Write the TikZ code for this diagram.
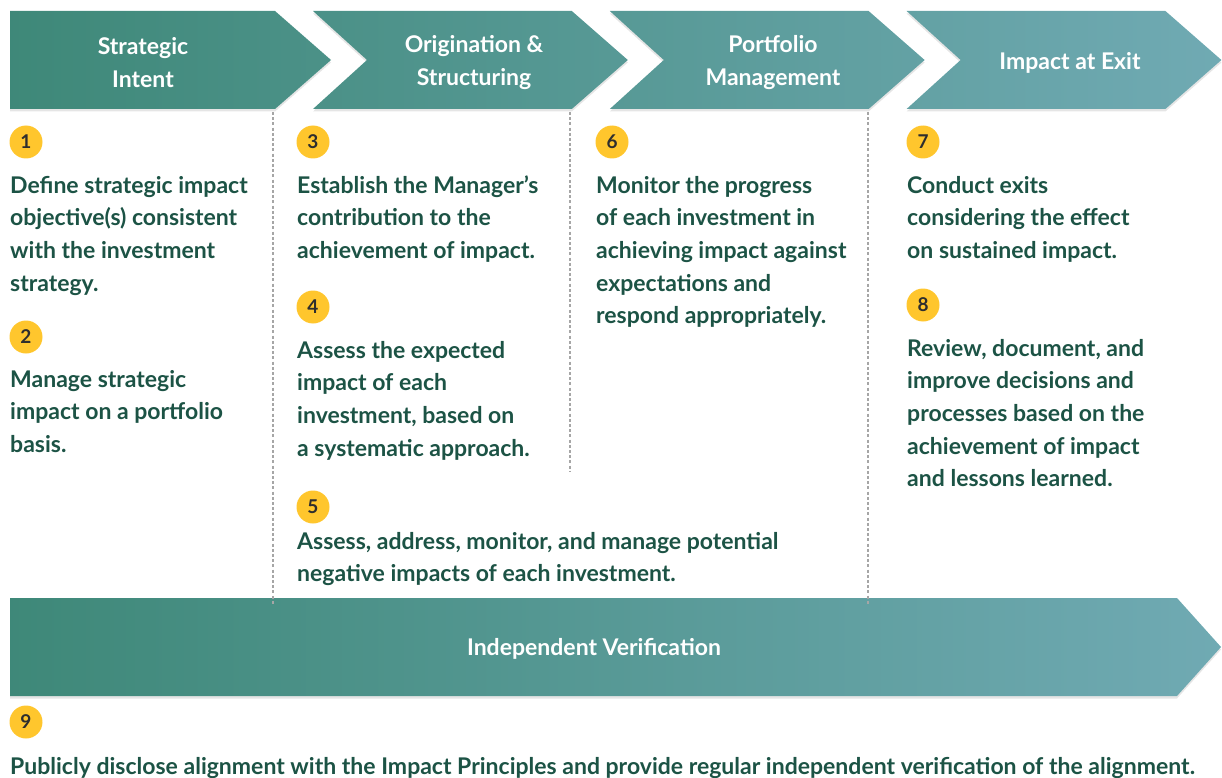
\documentclass[tikz,border=0pt]{standalone}
\usepackage{fontspec}
\setmainfont{Lato}
\usetikzlibrary{positioning}
\definecolor{tealdark}{HTML}{3E8878}
\definecolor{teallight}{HTML}{70AAB3}
\definecolor{txtgreen}{HTML}{1C5345}
\definecolor{badgeyel}{HTML}{FFC62D}
\definecolor{badgetxt}{HTML}{2E2E2E}

\begin{document}
\begin{tikzpicture}[x=1pt,y=-1pt,
    badge/.style={circle,fill=badgeyel,text=badgetxt,minimum size=33pt,inner sep=0pt,
      font=\bfseries\fontsize{19}{19}\selectfont},
    body/.style={anchor=north west,inner sep=0pt,align=left,text=txtgreen,
      font=\bfseries\fontsize{23}{32.7}\selectfont},
    head/.style={text=white,align=center,font=\bfseries\fontsize{23}{33}\selectfont},
    sep/.style={gray!70,line width=1.5pt,dash pattern=on 3pt off 2.2pt},
    tealshade/.style={path picture={\shade[left color=tealdark,right color=teallight]
      (0,0) rectangle (1222,778);}},
    shadow/.style={fill=black,opacity=0.1}]

  \useasboundingbox (0,0) rectangle (1222,778);

  % soft shadows under the arrows
  \begin{scope}[yshift=-2.5pt]
    \fill[shadow] (10,11) -- (275,11) -- (331,60) -- (275,109) -- (10,109) -- cycle;
    \foreach \tip/\lft in {627.8/313, 924.6/609.8, 1221.4/906.6}
      \fill[shadow] (\lft,11) -- (\tip-56,11) -- (\tip,60) -- (\tip-56,109)
        -- (\lft,109) -- (\lft+54,60) -- cycle;
    \fill[shadow] (10,598) -- (1177,598) -- (1221,647) -- (1177,696) -- (10,696) -- cycle;
  \end{scope}

  % top chevrons
  \path[tealshade] (10,11) -- (275,11) -- (331,60) -- (275,109) -- (10,109) -- cycle;
  \foreach \tip/\lft in {627.8/313, 924.6/609.8, 1221.4/906.6}
    \path[tealshade] (\lft,11) -- (\tip-56,11) -- (\tip,60) -- (\tip-56,109)
      -- (\lft,109) -- (\lft+54,60) -- cycle;

  % bottom arrow
  \path[tealshade] (10,598) -- (1177,598) -- (1221,647) -- (1177,696) -- (10,696) -- cycle;

  % stage labels
  \node[head] (h1) at (143,62.5) {Strategic\\Intent};
  \node[head] (h2) at (474,62.5) {Origination \&\\Structuring};
  \node[head] (h3) at (773,62.5) {Portfolio\\Management};
  \node[head] (h4) at (1070,62.5) {Impact at Exit};
  \node[head] (hv) at (594,649) {Independent Verification};

  % separators
  \coordinate (s1a) at (273,112); \coordinate (s1b) at (273,605);
  \coordinate (s2a) at (570,112); \coordinate (s2b) at (570,472);
  \coordinate (s3a) at (868,112); \coordinate (s3b) at (868,605);
  \draw[sep] (s1a) -- (s1b);
  \draw[sep] (s2a) -- (s2b);
  \draw[sep] (s3a) -- (s3b);

  % numbered principles
  \foreach \n/\x/\y in {1/26/142, 2/26/337, 3/313/142, 4/313/307, 5/313/507,
                        6/612/142, 7/923/142, 8/923/305, 9/26/722}
    \node[badge] (b\n) at (\x,\y) {\n};

  \node[body] (t1) at (10,170) {\strut Define strategic impact\\objective(s) consistent\\with the investment\\strategy.};
  \node[body] (t2) at (10,364) {\strut Manage strategic\\impact on a portfolio\\basis.};
  \node[body] (t3) at (297,170) {\strut Establish the Manager’s\\contribution to the\\achievement of impact.};
  \node[body] (t4) at (297,335) {\strut Assess the expected\\impact of each\\investment, based on\\a systematic approach.};
  \node[body] (t5) at (297,526) {\strut Assess, address, monitor, and manage potential\\negative impacts of each investment.};
  \node[body] (t6) at (596,170) {\strut Monitor the progress\\of each investment in\\achieving impact against\\expectations and\\respond appropriately.};
  \node[body] (t7) at (907,170) {\strut Conduct exits\\considering the effect\\on sustained impact.};
  \node[body] (t8) at (907,333) {\strut Review, document, and\\improve decisions and\\processes based on the\\achievement of impact\\and lessons learned.};
  \node[body] (t9) at (10,751) {\strut Publicly disclose alignment with the Impact Principles and provide regular independent verification of the alignment.};

\end{tikzpicture}
\end{document}
